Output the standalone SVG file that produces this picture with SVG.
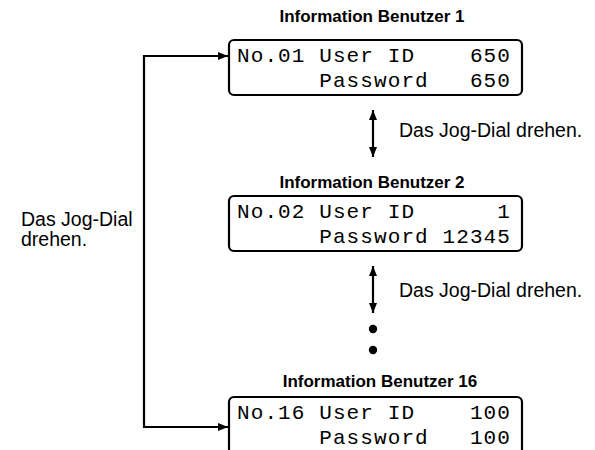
<svg xmlns="http://www.w3.org/2000/svg" width="595" height="450" viewBox="0 0 595 450">
<style>
.title{font-family:"Liberation Sans",Arial,sans-serif;font-weight:bold;font-size:17px;fill:#000;text-anchor:middle}
.lbl{font-family:"Liberation Sans",Arial,sans-serif;font-size:19.5px;fill:#000}
.mono{font-family:"Liberation Mono","Courier New",monospace;font-size:21px;letter-spacing:1.1px;fill:#000}
.box{fill:#fff;stroke:#000;stroke-width:2.2}
.ln{fill:none;stroke:#000;stroke-width:2.2}
</style>
<defs>
<marker id="ah" viewBox="0 0 10 8" refX="10" refY="4" markerWidth="10" markerHeight="8" markerUnits="userSpaceOnUse" orient="auto-start-reverse">
<path d="M0,0 L10,4 L0,8 Z" fill="#000"/>
</marker>
</defs>
<g id="connectors">
<path class="ln" d="M228,56 H144 V427 H228" marker-start="url(#ah)" marker-end="url(#ah)"/>
<path class="ln" d="M373,110 V157" marker-start="url(#ah)" marker-end="url(#ah)"/>
<path class="ln" d="M373,266 V313" marker-start="url(#ah)" marker-end="url(#ah)"/>
<circle cx="373" cy="329" r="4.2" fill="#000"/>
<circle cx="373" cy="350" r="4.2" fill="#000"/>
</g>
<g id="node1">
<text class="title" x="372" y="22">Information Benutzer 1</text>
<rect class="box" x="229" y="40" width="293" height="55" rx="5"/>
<text class="mono"><tspan x="237" y="62">No.01</tspan><tspan x="319.2" y="62">User</tspan><tspan x="387.7" y="62">ID</tspan><tspan x="469.9" y="62">650</tspan><tspan x="319.2" y="87">Password</tspan><tspan x="469.9" y="87">650</tspan></text>
</g>
<g id="node2">
<text class="title" x="372" y="188">Information Benutzer 2</text>
<rect class="box" x="229" y="196" width="293" height="55" rx="5"/>
<text class="mono"><tspan x="237" y="218">No.02</tspan><tspan x="319.2" y="218">User</tspan><tspan x="387.7" y="218">ID</tspan><tspan x="497.3" y="218">1</tspan><tspan x="319.2" y="243">Password</tspan><tspan x="442.5" y="243">12345</tspan></text>
</g>
<g id="node3">
<text class="title" x="380" y="387">Information Benutzer 16</text>
<rect class="box" x="229" y="397" width="293" height="60" rx="5"/>
<text class="mono"><tspan x="237" y="419">No.16</tspan><tspan x="319.2" y="419">User</tspan><tspan x="387.7" y="419">ID</tspan><tspan x="469.9" y="419">100</tspan><tspan x="319.2" y="444">Password</tspan><tspan x="469.9" y="444">100</tspan></text>
</g>
<g id="labels">
<text class="lbl" x="399" y="137">Das Jog-Dial drehen.</text>
<text class="lbl" x="399" y="297">Das Jog-Dial drehen.</text>
<text class="lbl" x="21" y="226">Das Jog-Dial</text>
<text class="lbl" x="21" y="246">drehen.</text>
</g>
</svg>
